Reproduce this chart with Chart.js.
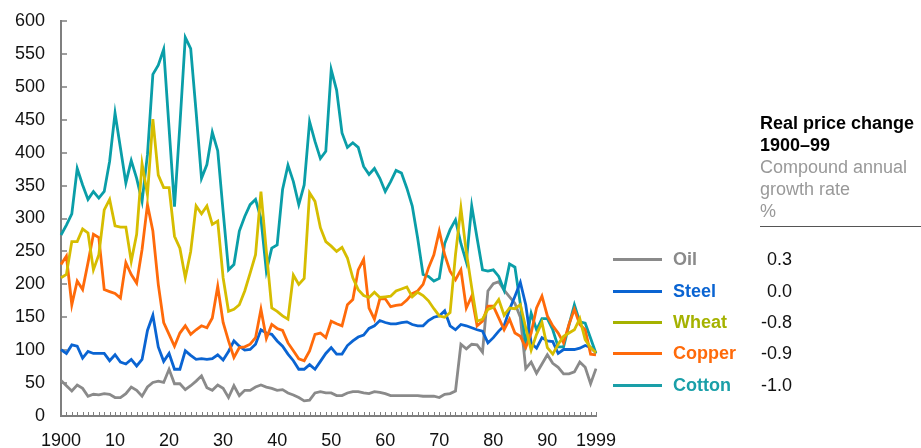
<!DOCTYPE html>
<html>
<head>
<meta charset="utf-8">
<title>Real commodity prices 1900-99</title>
<script src="https://cdn.jsdelivr.net/npm/chart.js@4.4.1/dist/chart.umd.min.js"></script>
<style>
  html, body { margin: 0; padding: 0; background: #fff; }
  #wrap { position: relative; width: 921px; height: 448px; overflow: hidden;
          font-family: "Liberation Sans", Arial, sans-serif; }
  #chart { position: absolute; left: 0; top: 0; }
  .head { position: absolute; left: 760px; top: 112px; font-size: 18px; line-height: 22px; white-space: nowrap; }
  .head b { color: #000; }
  .head span { color: #999; }
  .rule { position: absolute; left: 760px; top: 226px; width: 161px; height: 0; border-top: 1.5px solid #555; }
  .row { position: absolute; left: 0; height: 22px; }
  .row .swatch { position: absolute; left: 613px; top: 10px; width: 49px; height: 3px; }
  .row .name { position: absolute; left: 673px; top: 0; font-size: 18px; font-weight: bold; line-height: 22px; white-space: nowrap; }
  .row .rate { position: absolute; left: 732px; width: 60px; top: 0; font-size: 18px; line-height: 22px; text-align: right; color: #111; }
</style>
</head>
<body>
<div id="wrap">
  <canvas id="chart" width="921" height="448"></canvas>
  <div class="head">
    <b>Real price change</b><br>
    <b>1900–99</b><br>
    <span>Compound annual</span><br>
    <span>growth rate</span><br>
    <span>%</span>
  </div>
  <div class="rule"></div>
  <div id="key"></div>
</div>
<script>
// ---- DATA (index 1900 .. 1999) ----
const firstYear = 1900;
const lastYear = 1999;

const oil = [
  54, 46, 38, 47, 42, 30, 33, 32, 34, 33,
  28, 28, 34, 44, 39, 30, 44, 51, 53, 51,
  71, 49, 49, 40, 46, 53, 61, 43, 39, 47,
  42, 28, 46, 31, 39, 39, 44, 47, 44, 42,
  39, 40, 35, 32, 28, 23, 24, 35, 37, 35,
  35, 31, 31, 35, 37, 37, 35, 34, 37, 36,
  34, 31, 31, 31, 31, 31, 31, 30, 30, 30,
  28, 33, 34, 38, 109, 102, 109, 108, 97, 190,
  201, 204, 191, 181, 171, 150, 72, 82, 65, 79,
  93, 80, 74, 64, 64, 67, 82, 74, 49, 72
];
const steel = [
  101, 95, 108, 106, 88, 98, 95, 95, 95, 84,
  93, 82, 79, 86, 76, 86, 130, 153, 105, 83,
  95, 71, 71, 99, 92, 86, 87, 86, 87, 93,
  85, 98, 114, 106, 100, 101, 109, 131, 126, 124,
  114, 106, 94, 84, 71, 71, 78, 71, 83, 95,
  104, 94, 94, 107, 114, 120, 123, 133, 137, 145,
  142, 140, 140, 142, 143, 139, 137, 137, 145, 150,
  152, 160, 137, 131, 139, 137, 134, 131, 129, 111,
  119, 129, 137, 162, 182, 203, 169, 111, 103, 119,
  114, 113, 95, 101, 101, 101, 103, 107, 104, 96
];
const wheat = [
  210, 215, 265, 265, 284, 278, 222, 245, 313, 329,
  289, 287, 287, 235, 276, 383, 336, 451, 366, 347,
  347, 273, 255, 210, 250, 319, 307, 319, 291, 296,
  210, 159, 162, 169, 190, 217, 245, 341, 250, 164,
  159, 152, 147, 214, 200, 209, 339, 326, 286, 265,
  258, 250, 256, 240, 210, 192, 183, 180, 188, 180,
  181, 182, 190, 193, 196, 181, 188, 183, 175, 163,
  152, 150, 157, 245, 316, 249, 195, 144, 147, 162,
  165, 177, 153, 164, 163, 169, 134, 100, 124, 142,
  104, 94, 109, 121, 126, 131, 148, 116, 104, 96
];
const copper = [
  230, 243, 169, 205, 192, 233, 276, 271, 192, 189,
  186, 179, 233, 215, 202, 253, 321, 281, 200, 142,
  124, 106, 126, 137, 124, 131, 137, 134, 149, 197,
  142, 114, 89, 104, 105, 109, 119, 162, 118, 139,
  133, 130, 111, 99, 87, 84, 99, 124, 126, 119,
  144, 140, 137, 169, 177, 222, 238, 164, 147, 178,
  178, 166, 168, 169, 176, 186, 190, 200, 225, 245,
  281, 245, 220, 207, 222, 164, 182, 137, 144, 167,
  167, 149, 131, 147, 126, 121, 104, 126, 164, 182,
  152, 137, 126, 111, 139, 162, 139, 131, 94, 93
];
const cotton = [
  275, 290, 307, 376, 351, 329, 341, 331, 341, 387,
  460, 407, 354, 388, 361, 326, 397, 519, 533, 557,
  437, 318, 442, 575, 558, 462, 361, 382, 431, 403,
  311, 222, 230, 281, 303, 321, 329, 300, 220, 255,
  260, 344, 381, 356, 321, 351, 447, 417, 391, 402,
  526, 495, 430, 408, 415, 408, 379, 367, 376, 361,
  341, 356, 373, 369, 346, 319, 270, 215, 212, 205,
  209, 262, 283, 298, 262, 234, 319, 270, 222, 220,
  222, 212, 191, 231, 226, 170, 110, 156, 131, 148,
  148, 131, 105, 105, 138, 169, 143, 141, 118, 95
];

const seriesNames  = ['Oil', 'Steel', 'Wheat', 'Copper', 'Cotton'];
const growthRates  = ['0.3', '0.0', '-0.8', '-0.9', '-1.0'];
const lineColors   = ['#8a8a8a', '#0a64d2', '#d6bd00', '#ff6a0a', '#0a9ea8'];
const keyColors    = ['#8a8a8a', '#0a64d2', '#a5b200', '#ff6a0a', '#1a9fa8'];
const drawOrder    = [4, 2, 0, 1, 3]; // lower = drawn on top

const tickYears  = [1900, 1910, 1920, 1930, 1940, 1950, 1960, 1970, 1980, 1990, 1999];
const tickLabels = ['1900', '10', '20', '30', '40', '50', '60', '70', '80', '90', '1999'];
const yTicks = [0, 50, 100, 150, 200, 250, 300, 350, 400, 450, 500, 550, 600];

const years = [];
for (let yr = firstYear; yr <= lastYear; yr++) years.push(yr);

// ---- axis lines + inward tick marks ----
const axisPlugin = {
  id: 'axisTicks',
  beforeDatasetsDraw(chart) {
    const { ctx, chartArea: a, scales: { x, y } } = chart;
    ctx.save();
    ctx.strokeStyle = '#7f7f7f';
    ctx.lineWidth = 2;
    ctx.beginPath();
    ctx.moveTo(a.left, a.top - 1);
    ctx.lineTo(a.left, a.bottom);
    ctx.lineTo(a.right + 1, a.bottom);
    ctx.stroke();

    ctx.lineWidth = 1.5;
    ctx.beginPath();
    yTicks.forEach(v => {
      const py = Math.round(y.getPixelForValue(v));
      ctx.moveTo(a.left, py);
      ctx.lineTo(a.left + 6, py);
    });
    ctx.stroke();

    ctx.lineWidth = 1;
    ctx.beginPath();
    years.forEach((yr, i) => {
      const px = Math.round(x.getPixelForValue(i)) + 0.5;
      ctx.moveTo(px, a.bottom);
      ctx.lineTo(px, a.bottom - 4);
    });
    ctx.stroke();
    ctx.restore();
  }
};

Chart.defaults.font.family = '"Liberation Sans", Arial, sans-serif';
Chart.defaults.font.size = 18;
Chart.defaults.color = '#111';

const allSeries = [oil, steel, wheat, copper, cotton];

const chart = new Chart(document.getElementById('chart'), {
  type: 'line',
  data: {
    labels: years,
    datasets: allSeries.map((vals, i) => ({
      label: seriesNames[i],
      data: vals,
      borderColor: lineColors[i],
      borderWidth: 2.8,
      pointRadius: 0,
      tension: 0,
      fill: false,
      order: drawOrder[i]
    }))
  },
  options: {
    responsive: false,
    animation: false,
    layout: { padding: { left: 0, top: 21, right: 325, bottom: 0 } },
    plugins: { legend: { display: false }, tooltip: { enabled: false } },
    scales: {
      x: {
        type: 'category',
        grid: { display: false, drawTicks: false },
        border: { display: false },
        ticks: {
          autoSkip: false,
          maxRotation: 0,
          minRotation: 0,
          padding: 14,
          callback: (val, i) => {
            const k = tickYears.indexOf(years[i]);
            return k >= 0 ? tickLabels[k] : '';
          }
        },
        afterFit: s => { s.height = 32; }
      },
      y: {
        min: 0,
        max: 600,
        grid: { display: false, drawTicks: false },
        border: { display: false },
        ticks: { stepSize: 50, padding: 16 },
        // tick padding would otherwise push the plot top down
        afterFit: s => { s.width = 61; s.paddingTop = 0; s.paddingBottom = 0; }
      }
    }
  },
  plugins: [axisPlugin]
});

// ---- Right-hand key ----
const rowCenters = [259, 291, 322, 353, 385];
const key = document.getElementById('key');
seriesNames.forEach((name, i) => {
  const row = document.createElement('div');
  row.className = 'row';
  row.style.top = (rowCenters[i] - 11) + 'px';
  row.innerHTML =
    `<div class="swatch" style="background:${keyColors[i]}"></div>` +
    `<div class="name" style="color:${keyColors[i]}">${name}</div>` +
    `<div class="rate">${growthRates[i]}</div>`;
  key.appendChild(row);
});
</script>
</body>
</html>
